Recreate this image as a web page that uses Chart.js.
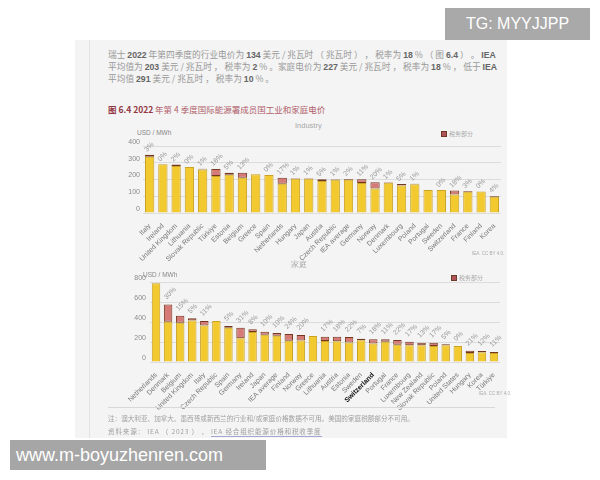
<!DOCTYPE html>
<html><head><meta charset="utf-8">
<script src="https://cdn.jsdelivr.net/npm/chart.js@4.4.0/dist/chart.umd.min.js"></script>
<style>
html,body{margin:0;padding:0;background:#fff;width:600px;height:480px;overflow:hidden;position:relative;font-family:"Noto Sans CJK SC","Noto Sans",sans-serif;}
.abs{position:absolute;white-space:nowrap;}
#doc{left:75px;top:40px;width:432px;height:398px;background:#f4f4f4;}
#vline{left:89px;top:40px;width:1px;height:398px;background:#e2e2e2;}
.para{left:108px;width:386px;font-size:8.7px;color:#999;line-height:12px;text-align:justify;text-align-last:justify;}
.para b{color:#666;font-weight:bold;font-family:"Liberation Sans",sans-serif;}
#title{left:108px;top:103px;font-size:8.5px;color:#b0606a;}
#title b{color:#933845;}
.sub{font-size:7.5px;color:#a8a8a8;font-family:"Liberation Sans",sans-serif;}
.unit{font-size:6.5px;color:#888;font-family:"Liberation Sans",sans-serif;}
.leg{font-size:6px;color:#aaa;}
.leg i{display:inline-block;width:4px;height:4px;background:#b0545a;border:1px solid #6e3a28;margin-right:2px;vertical-align:-1px;}
.cc{font-size:4.5px;color:#aaa;font-family:"Liberation Sans",sans-serif;}
#hr{left:108px;top:407px;width:387px;height:1px;background:#d8d8d8;}
.foot{left:108px;font-size:6.6px;color:#a0a0a0;}
#tg{left:445px;top:8px;width:145px;height:32px;background:#a9a9a9;color:#fff;font-family:"Liberation Sans",sans-serif;font-size:16px;line-height:32px;text-align:center;}
#wm{left:10px;top:440px;width:256px;height:30px;background:#a6a6a6;color:#fff;font-family:"Liberation Sans",sans-serif;font-size:18px;line-height:30px;padding-left:6px;box-sizing:border-box;}
canvas{position:absolute;}
</style></head>
<body>
<div id="doc" class="abs"></div>
<div id="vline" class="abs"></div>
<div class="abs para" style="top:49px">瑞士 <b>2022</b> 年第四季度的行业电价为 <b>134</b> 美元 / 兆瓦时 （ 兆瓦时 ） ， 税率为 <b>18</b> % （ 图 <b>6.4</b> ） 。 <b>IEA</b></div>
<div class="abs para" style="top:61px">平均值为 <b>203</b> 美元 / 兆瓦时 ， 税率为 <b>2</b> % 。家庭电价为 <b>227</b> 美元 / 兆瓦时 ， 税率为 <b>18</b> % ， 低于 <b>IEA</b></div>
<div class="abs para" style="top:73px;width:auto;text-align:left;text-align-last:auto">平均值 <b>291</b> 美元 / 兆瓦时 ， 税率为 <b>10</b> % 。</div>
<div id="title" class="abs"><b>图 6.4 2022</b> 年第 4 季度国际能源署成员国工业和家庭电价</div>

<div class="abs sub" style="left:295px;top:121px">Industry</div>
<div class="abs unit" style="left:137px;top:129px">USD / MWh</div>
<div class="abs leg" style="left:441px;top:129px"><i></i>税务部分</div>
<canvas id="c1" width="420" height="145" style="left:100px;top:118px"></canvas>
<div class="abs cc" style="left:472px;top:251px">IEA. CC BY 4.0.</div>

<div class="abs sub" style="left:291px;top:260px">家庭</div>
<div class="abs unit" style="left:143px;top:271px">USD / MWh</div>
<div class="abs leg" style="left:451px;top:273px"><i></i>税务部分</div>
<canvas id="c2" width="420" height="148" style="left:100px;top:262px"></canvas>
<div class="abs cc" style="left:479px;top:391px">IEA. CC BY 4.0.</div>

<div id="hr" class="abs"></div>
<div class="abs foot" style="top:413px">注：澳大利亚、加拿大、墨西哥或新西兰的行业和/或家庭价格数据不可用。美国的家庭税额部分不可用。</div>
<div class="abs foot" style="top:426px;letter-spacing:0.8px">资料来源： IEA （ 2023 ） ， <span style="border-bottom:1px solid #a4a8d0">IEA 经合组织能源价格和税收季度</span></div>

<div id="tg" class="abs">TG: MYYJJPP</div>
<div id="wm" class="abs">www.m-boyuzhenren.com</div>

<script>
// ---------- Industry ----------
const industryCountries = ["Italy","Ireland","United Kingdom","Lithuania","Slovak Republic","Türkiye","Estonia","Belgium","Greece","Spain","Netherlands","Hungary","Japan","Austria","Czech Republic","IEA average","Germany","Norway","Denmark","Luxembourg","Poland","Portugal","Sweden","Switzerland","France","Finland","Korea"];
const industryNet = [336,291,281,275,260,221,229,210,231,227,175,205,205,191,199,199,179,146,181,164,171,137,137,110,127,129,97];
const industryTax = [12,0,8,0,4,42,12,31,0,0,36,3,3,10,3,4,22,37,3,9,3,0,0,24,4,0,5];
const industryTaxPct = ["3%","0%","2%","0%","1%","16%","5%","13%","","0%","17%","1%","1%","5%","1%","2%","11%","20%","1%","5%","1%","","0%","18%","3%","0%","4%"];
const industryTicks = [0,50,100,150,200,250,300,350,400];

// ---------- Household ----------
const householdCountries = ["Netherlands","Denmark","Belgium","United Kingdom","Italy","Czech Republic","Spain","Germany","Ireland","Japan","IEA average","Finland","Norway","Greece","Lithuania","Austria","Estonia","Sweden","Switzerland","Portugal","France","Luxembourg","New Zealand","Slovak Republic","Poland","United States","Hungary","Korea","Türkiye"];
const householdNet = [787,402,393,415,365,410,342,237,301,273,262,213,216,260,210,207,195,217,186,202,172,168,168,160,168,160,89,97,89];
const householdTax = [0,173,70,22,45,0,18,106,26,30,29,67,54,0,43,46,55,16,41,25,48,35,25,33,9,0,24,13,11];
const householdTaxPct = ["","30%","15%","5%","11%","","5%","31%","8%","10%","10%","24%","20%","","17%","18%","22%","7%","18%","11%","22%","17%","13%","17%","5%","0%","21%","12%","11%"];
const householdTicks = [0,100,200,300,400,500,600,700,800];

const LATIN = '"Liberation Sans", "Noto Sans", sans-serif';

const pctPlugin = {
  id: 'pctLabels',
  afterDatasetsDraw(chart, args, opts) {
    const meta = chart.getDatasetMeta(1);
    const ctx = chart.ctx;
    ctx.save();
    ctx.font = '7px ' + LATIN;
    ctx.fillStyle = '#999';
    ctx.textAlign = 'left';
    ctx.textBaseline = 'middle';
    meta.data.forEach((el, i) => {
      const t = opts.labels[i];
      if (!t) return;
      ctx.save();
      ctx.translate(el.x + opts.dx, el.y + opts.dy);
      ctx.rotate(-Math.PI / 4);
      ctx.fillText(t, 0, 0);
      ctx.restore();
    });
    ctx.restore();
  }
};

function makeChart(id, cats, net, tax, pct, ticks, o) {
  return new Chart(document.getElementById(id), {
    type: 'bar',
    data: {
      labels: cats,
      datasets: [
        {label: '价格', data: net, backgroundColor: '#f2c92e', borderColor: '#c9a226', borderWidth: 1, borderSkipped: 'start', stack: 's'},
        {label: '税务部分', data: tax, backgroundColor: '#d67a78', borderColor: '#74381f', borderWidth: 1, borderSkipped: false, stack: 's'}
      ]
    },
    options: {
      responsive: false, animation: false, devicePixelRatio: 1,
      layout: {padding: {top: o.padTop, right: o.padRight, left: 0, bottom: 0}},
      datasets: {bar: {categoryPercentage: 1, barPercentage: 0.7}},
      plugins: {
        legend: {display: false}, title: {display: false}, tooltip: {enabled: false},
        pctLabels: {labels: pct, dx: o.dx, dy: o.dy}
      },
      scales: {
        x: {
          stacked: true,
          grid: {display: false}, border: {display: false},
          ticks: {
            autoSkip: false, minRotation: 45, maxRotation: 45, padding: 1,
            font: (c) => ({size: 7, family: LATIN, weight: (cats[c.index] === o.bold ? 'bold' : 'normal')}),
            color: (c) => (cats[c.index] === o.bold ? '#111' : '#777')
          },
          afterFit(s) { s.height = o.xH; }
        },
        y: {
          stacked: true, min: 0, max: ticks[ticks.length - 1],
          grid: {color: '#dcdcdc', drawTicks: false}, border: {display: false},
          afterBuildTicks(s) { s.ticks = ticks.map(v => ({value: v})); },
          ticks: {padding: o.tickPad, labelOffset: -4, font: {size: 7, family: LATIN}, color: '#8a8a8a'},
          afterFit(s) { s.width = o.yW; }
        }
      }
    },
    plugins: [pctPlugin]
  });
}

makeChart('c1', industryCountries, industryNet, industryTax, industryTaxPct, industryTicks,
  {padTop: 28, padRight: 19, xH: 50, yW: 43, tickPad: 3, dx: -4, dy: -4, bold: null});
makeChart('c2', householdCountries, householdNet, householdTax, householdTaxPct, householdTicks,
  {padTop: 20, padRight: 20, xH: 48, yW: 50, tickPad: 4, dx: -3, dy: -6, bold: 'Switzerland'});
</script>
</body></html>
